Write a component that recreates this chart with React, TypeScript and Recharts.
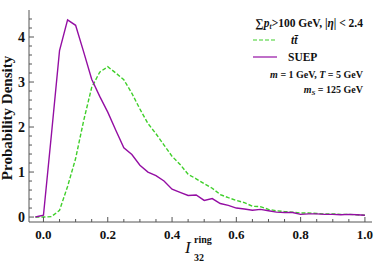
import { LineChart, Line, XAxis, YAxis } from "recharts";

const xs = [
  -0.025, 0, 0.025, 0.05, 0.075, 0.1, 0.125, 0.15, 0.175, 0.2, 0.225, 0.25, 0.275, 0.3, 0.325, 0.35, 0.375, 0.4,
  0.425, 0.45, 0.475, 0.5, 0.525, 0.55, 0.575, 0.6, 0.625, 0.65, 0.675, 0.7, 0.725, 0.75, 0.775, 0.8, 0.825, 0.85,
  0.875, 0.9, 0.925, 0.95, 0.975, 1.0,
];
const suep = [
  0, 0.04, 1.85, 3.7, 4.38, 4.26, 3.67, 3.06, 2.68, 2.33, 1.93, 1.54, 1.39, 1.15, 1.0, 0.92, 0.8, 0.62, 0.55, 0.48,
  0.49, 0.37, 0.41, 0.3, 0.26, 0.2, 0.18, 0.15, 0.17, 0.14, 0.11, 0.1, 0.1, 0.06, 0.07, 0.07, 0.06, 0.06, 0.05, 0.06,
  0.05, 0.04,
];
const ttbar = [
  0, 0, 0.01, 0.15, 0.68, 1.3, 2.14, 2.88, 3.22, 3.34, 3.2, 3.05, 2.75, 2.4, 2.08, 1.85, 1.6, 1.35, 1.17, 0.95, 0.85,
  0.74, 0.64, 0.5, 0.43, 0.37, 0.32, 0.24, 0.23, 0.17, 0.14, 0.12, 0.11, 0.09, 0.09, 0.08, 0.07, 0.07, 0.06, 0.06,
  0.05, 0.04,
];
const xTicks = Array.from({ length: 21 }, (_, i) => Math.round(i * 5) / 100);
const yTicks = Array.from({ length: 23 }, (_, i) => Math.round(i * 2) / 10);

const data = xs.map((x, i) => ({ x, suep: suep[i], tt: ttbar[i] }));

const FRAME = "#555";
const SERIF = "'Liberation Serif', 'DejaVu Serif', serif";
const PURPLE = "#940ea3";
const GREEN = "#3fcf2a";

const isMajorX = (v: number) => Math.abs(v * 5 - Math.round(v * 5)) < 1e-6;
const isMajorY = (v: number) => Math.abs(v - Math.round(v)) < 1e-6;

function XTick(props: any) {
  const { x, y, payload, top } = props;
  const major = isMajorX(payload.value);
  const len = major ? 5 : 3;
  return (
    <g>
      <line x1={x} x2={x} y1={y} y2={top ? y + len : y - len} stroke={FRAME} strokeWidth={1} />
      {!top && major && (
        <text x={x} y={y + 17} textAnchor="middle" fontFamily={SERIF} fontWeight="bold" fontSize={13} fill="#111">
          {payload.value.toFixed(1)}
        </text>
      )}
    </g>
  );
}

function YTick(props: any) {
  const { x, y, payload, right } = props;
  const major = isMajorY(payload.value);
  const len = major ? 5 : 3;
  return (
    <g>
      <line x1={x} x2={right ? x - len : x + len} y1={y} y2={y} stroke={FRAME} strokeWidth={1} />
      {!right && major && (
        <text x={x - 4} y={y + 5} textAnchor="end" fontFamily={SERIF} fontWeight="bold" fontSize={14} fill="#111">
          {payload.value}
        </text>
      )}
    </g>
  );
}

export default function App() {
  return (
    <div style={{ position: "absolute", left: 0, top: 0, width: 374, height: 272, background: "#fff" }}>
      <LineChart width={374} height={272} data={data} margin={{ top: 10, right: 2, bottom: 0, left: 0 }}>
        <XAxis
          xAxisId="b"
          dataKey="x"
          type="number"
          domain={[-0.045, 1.022]}
          ticks={xTicks}
          interval={0}
          tickSize={0}
          tickMargin={0}
          tickLine={false}
          axisLine={{ stroke: FRAME }}
          height={50}
          tick={<XTick />}
        />
        <XAxis
          xAxisId="t"
          dataKey="x"
          type="number"
          orientation="top"
          domain={[-0.045, 1.022]}
          ticks={xTicks}
          interval={0}
          tickSize={0}
          tickMargin={0}
          tickLine={false}
          axisLine={{ stroke: FRAME }}
          height={0}
          tick={<XTick top />}
        />
        <YAxis
          yAxisId="l"
          type="number"
          domain={[-0.11, 4.6]}
          ticks={yTicks}
          interval={0}
          tickSize={0}
          tickMargin={0}
          tickLine={false}
          axisLine={{ stroke: FRAME }}
          width={29}
          tick={<YTick />}
        />
        <YAxis
          yAxisId="r"
          orientation="right"
          type="number"
          domain={[-0.11, 4.6]}
          ticks={yTicks}
          interval={0}
          tickSize={0}
          tickMargin={0}
          tickLine={false}
          axisLine={{ stroke: FRAME }}
          width={0}
          tick={<YTick right />}
        />
        <Line
          xAxisId="b"
          yAxisId="l"
          dataKey="tt"
          type="linear"
          stroke={GREEN}
          strokeWidth={1.4}
          strokeDasharray="4 2"
          dot={false}
          isAnimationActive={false}
        />
        <Line
          xAxisId="b"
          yAxisId="l"
          dataKey="suep"
          type="linear"
          stroke={PURPLE}
          strokeWidth={1.4}
          dot={false}
          isAnimationActive={false}
        />
        {/* axis titles */}
        <text
          transform="translate(12,118) rotate(-90)"
          textAnchor="middle"
          fontFamily={SERIF}
          fontWeight="bold"
          fontSize={15}
          fill="#111"
        >
          Probability Density
        </text>
        <text x={185} y={253} fontFamily={SERIF} fontStyle="italic" fontSize={17} fill="#111">
          I
        </text>
        <text x={194} y={261} fontFamily={SERIF} fontWeight="bold" fontSize={10} fill="#111">
          32
        </text>
        <text x={194} y={243} fontFamily={SERIF} fontWeight="bold" fontSize={10} fill="#111">
          ring
        </text>
        {/* legend / annotations */}
        <text x={363} y={27} textAnchor="end" fontFamily={SERIF} fontWeight="bold" fontSize={11.5} fill="#111">
          ∑<tspan fontStyle="italic">p</tspan>
          <tspan fontStyle="italic" fontSize={7.5} dy={2}>t</tspan>
          <tspan dy={-2}>&gt;100 GeV, |</tspan>
          <tspan fontStyle="italic">η</tspan>| &lt; 2.4
        </text>
        <line x1={253} x2={277} y1={40} y2={40} stroke={GREEN} strokeWidth={1.2} strokeDasharray="4 2" />
        <text x={291} y={44} fontFamily={SERIF} fontWeight="bold" fontStyle="italic" fontSize={11.5} fill="#111">
          tt̄
        </text>
        <line x1={253} x2={277} y1={57} y2={57} stroke={PURPLE} strokeWidth={1.2} />
        <text x={288} y={61} fontFamily={SERIF} fontWeight="bold" fontSize={11.5} fill="#111">
          SUEP
        </text>
        <text x={363} y={78} textAnchor="end" fontFamily={SERIF} fontWeight="bold" fontSize={10} fill="#111">
          <tspan fontStyle="italic">m</tspan> = 1 GeV, <tspan fontStyle="italic">T</tspan> = 5 GeV
        </text>
        <text x={363} y={93} textAnchor="end" fontFamily={SERIF} fontWeight="bold" fontSize={10} fill="#111">
          <tspan fontStyle="italic">m</tspan>
          <tspan fontStyle="italic" fontSize={7} dy={2}>S</tspan>
          <tspan dy={-2}> = 125 GeV</tspan>
        </text>
      </LineChart>
    </div>
  );
}
